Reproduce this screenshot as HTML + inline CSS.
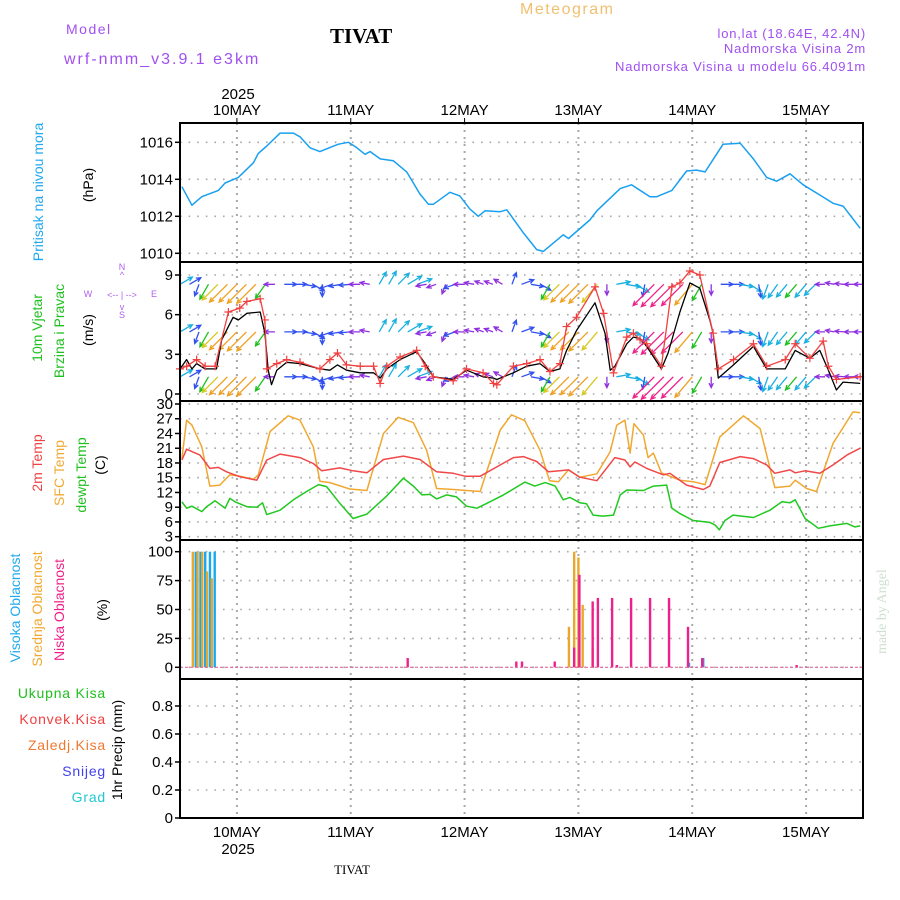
<!DOCTYPE html>
<html><head><meta charset="utf-8"><style>
html,body{margin:0;padding:0;background:#fff;}
svg{display:block;font-family:"Liberation Sans",sans-serif;}
</style></head><body>
<svg id="chart" width="900" height="900" viewBox="0 0 900 900" xmlns="http://www.w3.org/2000/svg">
<rect width="900" height="900" fill="#fff"/>
<text x="66" y="34" font-size="14" fill="#a050f0" letter-spacing="1.5">Model</text>
<text x="64" y="64" font-size="16" fill="#a050f0" letter-spacing="2">wrf-nmm_v3.9.1 e3km</text>
<text x="330" y="43" font-size="21" font-weight="bold" font-family="Liberation Serif,serif" fill="#000">TIVAT</text>
<text x="520" y="14" font-size="16" fill="#f0c070" letter-spacing="1.5">Meteogram</text>
<text x="866" y="38" font-size="13" fill="#a050f0" text-anchor="end" letter-spacing="0.8">lon,lat (18.64E, 42.4N)</text>
<text x="866" y="53" font-size="13" fill="#a050f0" text-anchor="end" letter-spacing="0.8">Nadmorska Visina 2m</text>
<text x="866" y="71" font-size="13" fill="#a050f0" text-anchor="end" letter-spacing="0.8">Nadmorska Visina u modelu 66.4091m</text>
<text x="238" y="99" font-size="15" text-anchor="middle">2025</text>
<text x="238" y="854" font-size="15" text-anchor="middle">2025</text>
<text x="352" y="874" font-size="13" font-family="Liberation Serif,serif" text-anchor="middle">TIVAT</text>
<text transform="translate(886,654) rotate(-90)" font-size="14" fill="#cfe0cf" font-family="Liberation Serif,serif">made by Angel</text>

<text transform="translate(43,192) rotate(-90)" font-size="14" fill="#20a8f0" text-anchor="middle">Pritisak na nivou mora</text>
<text transform="translate(93,185) rotate(-90)" font-size="14" text-anchor="middle">(hPa)</text>
<text transform="translate(42,328) rotate(-90)" font-size="14" fill="#20c020" text-anchor="middle">10m Vjetar</text>
<text transform="translate(64,331) rotate(-90)" font-size="14" fill="#20c020" text-anchor="middle">Brzina i Pravac</text>
<text transform="translate(93,330) rotate(-90)" font-size="14" text-anchor="middle">(m/s)</text>
<g fill="#b060f0" font-size="9" text-anchor="middle">
<text x="122" y="270">N</text><text x="122" y="278">^</text><text x="88" y="297">W</text><text x="154" y="297">E</text>
<text x="122" y="298">&lt;-- | --&gt;</text><text x="122" y="310">v</text><text x="122" y="318">S</text>
</g>
<text transform="translate(42,463) rotate(-90)" font-size="14" fill="#f04040" text-anchor="middle">2m Temp</text>
<text transform="translate(64,473) rotate(-90)" font-size="14" fill="#f0a830" text-anchor="middle">SFC Temp</text>
<text transform="translate(86,475) rotate(-90)" font-size="14" fill="#20c020" text-anchor="middle">dewpt Temp</text>
<text transform="translate(105,465) rotate(-90)" font-size="14" text-anchor="middle">(C)</text>
<text transform="translate(20,608) rotate(-90)" font-size="14" fill="#20a8f0" text-anchor="middle">Visoka Oblacnost</text>
<text transform="translate(42,609) rotate(-90)" font-size="14" fill="#f0a830" text-anchor="middle">Srednja Oblacnost</text>
<text transform="translate(64,610) rotate(-90)" font-size="14" fill="#f0208a" text-anchor="middle">Niska Oblacnost</text>
<text transform="translate(107,610) rotate(-90)" font-size="14" text-anchor="middle">(%)</text>
<g font-size="14" text-anchor="end" letter-spacing="0.8">
<text x="106" y="698" fill="#20c020">Ukupna  Kisa</text>
<text x="106" y="724" fill="#f04040">Konvek.Kisa</text>
<text x="106" y="750" fill="#f07830">Zaledj.Kisa</text>
<text x="106" y="776" fill="#4040f0">Snijeg</text>
<text x="106" y="802" fill="#20c8d0">Grad</text>
</g>
<text transform="translate(122,750) rotate(-90)" font-size="14" text-anchor="middle">1hr Precip (mm)</text>
<g id="plot"></g>
</svg>
<script>
// ---- data ----
const dayLabels = ["10MAY","11MAY","12MAY","13MAY","14MAY","15MAY"];
const dayHours = [12,36,60,84,108,132];
const pressTicks = [1010,1012,1014,1016];
const windTicks = [0,3,6,9];
const tempTicks = [3,6,9,12,15,18,21,24,27,30];
const cloudTicks = [0,25,50,75,100];
const precipTicks = [0,0.2,0.4,0.6,0.8];
const precipTickLabels = ["0","0.2","0.4","0.6","0.8"];

const pressHours = [0.4,2.5,4.6,8.1,9.5,12.3,15.5,16.5,18.3,21.1,23.9,25.3,27.4,29.5,33.4,35.5,37.3,39.0,40.1,42.2,45.0,47.8,50.6,52.4,53.4,56.9,59.0,61.1,62.9,64.3,67.5,68.9,72.4,75.2,76.6,80.8,81.9,86.4,87.9,92.8,95.2,99.1,100.5,103.7,106.8,108.9,110.7,112.1,114.5,118.1,120.9,123.7,125.8,128.6,131.4,134.9,137.7,139.8,143.4];
const pressVals = [1013.6,1012.6,1013.06,1013.4,1013.8,1014.1,1014.9,1015.4,1015.8,1016.5,1016.5,1016.3,1015.7,1015.5,1015.9,1016.0,1015.7,1015.35,1015.5,1015.1,1015.0,1014.4,1013.2,1012.65,1012.65,1013.3,1013.1,1012.4,1012.0,1012.3,1012.25,1012.35,1011.1,1010.2,1010.1,1011.0,1010.8,1011.8,1012.3,1013.5,1013.7,1013.06,1013.06,1013.4,1014.45,1014.5,1014.4,1014.95,1015.9,1015.95,1015.1,1014.1,1013.9,1014.3,1013.7,1013.15,1012.7,1012.55,1011.35];

const t2Hours = [0.4,1.4,4.2,6.3,8.1,9.8,12.6,16.2,18.3,21.1,25.3,28.1,29.9,33.7,36.5,39.4,42.9,47.1,50.6,54.1,57.6,60.1,63.3,70.3,72.4,75.2,77.7,80.1,81.9,84.3,87.9,91.7,93.8,94.9,95.9,98.4,101.9,103.3,106.8,110.3,111.7,113.8,118.1,120.9,123.7,125.4,128.6,129.7,131.8,134.9,137.7,140.6,143.4];
const t2Vals = [18.6,20.8,19.6,16.9,17.1,16.2,15.2,14.5,18.6,19.8,19.1,17.9,16.4,17.0,16.4,16.0,18.7,19.4,18.7,16.2,15.9,15.3,15.3,19.1,19.3,18.3,16.2,16.4,16.6,15.1,14.4,19.1,18.6,17.2,18.2,16.9,15.6,15.9,13.5,12.6,13.3,18.1,19.3,18.9,17.6,15.9,16.6,16.0,16.4,15.9,17.6,19.6,21.0];

const sfcHours = [0.4,1.4,2.5,4.6,6.3,8.4,10.5,12.6,15.5,16.5,19.0,22.8,25.3,28.1,29.5,31.6,35.8,39.4,42.9,46.0,49.2,52.0,54.1,57.6,63.3,67.5,69.9,72.7,75.9,77.9,79.8,81.9,84.3,87.9,90.7,92.1,93.8,94.9,95.7,97.7,98.7,99.8,101.5,105.4,108.2,110.7,113.8,118.8,122.3,125.4,128.6,129.7,132.1,134.2,137.7,141.9,143.4];
const sfcVals = [18.9,26.7,25.7,21.3,13.3,13.5,15.6,15.3,14.7,15.6,24.4,27.6,26.7,21.3,14.3,14.0,12.7,12.4,24.0,27.3,26.2,20.6,12.8,12.6,12.2,24.7,27.8,26.6,20.6,14.4,14.2,16.6,15.1,15.8,20.3,25.7,26.7,20.0,26.0,23.7,19.1,20.0,16.0,14.5,14.2,13.6,23.3,27.6,25.0,13.0,13.3,14.5,12.8,12.2,22.0,28.4,28.2];

const dewHours = [0.4,1.4,2.5,4.6,5.6,7.4,9.5,10.5,11.6,14.1,16.2,17.4,18.3,21.1,23.9,26.7,29.2,30.9,33.7,36.5,39.4,43.6,47.1,49.2,51.0,52.7,54.1,56.2,58.3,60.4,62.6,64.7,68.2,72.7,74.8,77.0,79.1,80.8,82.2,84.3,85.7,87.1,89.2,91.4,92.8,94.2,97.7,99.8,102.6,103.7,105.4,108.2,111.7,112.8,113.7,114.9,116.6,120.9,124.4,126.9,128.6,129.7,131.8,134.6,137.0,140.6,142.3,143.4];
const dewVals = [10.1,8.8,9.2,8.1,9.1,10.3,8.8,10.8,10.1,9.1,9.0,9.9,7.5,8.4,10.5,12.2,13.6,13.2,9.8,6.7,7.6,11.3,14.9,13.3,11.5,11.6,10.7,11.5,11.1,9.2,8.8,9.8,11.5,14.1,13.3,14.0,13.3,10.5,11.0,9.9,9.7,7.4,7.2,7.4,11.5,12.5,12.4,13.3,13.5,8.8,7.7,6.3,5.9,5.4,4.4,6.3,7.4,6.9,8.4,10.1,9.9,10.5,6.7,4.7,5.2,5.7,5.0,5.2];

const speedHours = [0,1.4,2.5,3.5,5.3,7.7,8.8,11.2,12.3,14.1,16.9,17.9,18.6,19.3,20.4,22.5,25.3,29.5,31.6,33.2,35.1,38,40.8,42.2,43.6,46.4,49.9,51.7,53.4,57.6,60.4,63.9,66.1,66.8,70.3,73.1,75.9,78,80.1,81.5,83.6,87.5,89.6,90.7,91.7,94.2,95.6,97,98.4,101.5,102.9,105.4,107.5,109.6,111.7,112.4,113.5,116.7,120.9,123.7,127.6,129.7,132.8,134.9,136.7,138.4,139.8,143.4];
const speedVals = [1.9,2.6,1.9,2.3,1.9,1.9,4.1,5.8,5.6,6.1,6.2,4.6,1.8,0.7,1.8,2.4,2.3,1.9,1.8,2.2,1.8,1.6,1.6,1.2,1.9,2.6,3.2,2.3,1.3,1.1,1.8,1.3,1.2,1.1,1.6,2.1,2.3,1.7,1.9,3.3,4.8,6.9,4.6,1.8,2.1,3.8,4.3,4.2,3.6,1.9,3.1,6.2,8.4,8.0,5.6,4.6,1.2,2.2,3.6,1.9,1.9,3.3,2.7,3.3,1.8,0.3,0.9,0.8];

const gustHours = [0,1.4,3.5,5.3,7.4,10.2,12.6,14.1,16.9,17.9,18.3,20.4,22.5,25.3,29.5,31.6,33.2,35.1,38,40.8,42.2,43.6,46.4,49.9,51.7,53.4,57.6,60.4,63.9,66.1,66.8,70.3,73.1,75.9,78,80.1,81.5,83.6,87.5,89.3,91.4,94.2,95.6,97,98.4,101.5,103.7,105.4,107.5,109.6,112.4,113.5,116.7,120.9,123.7,127.6,129.7,132.8,135.6,136.7,138.4,143.4];
const gustVals = [1.9,2.1,2.6,2.1,2.1,6.2,6.5,7.0,7.2,5.6,1.9,2.3,2.6,2.4,1.9,2.6,3.1,2.2,2.1,2.1,0.8,2.1,2.8,3.3,2.1,1.3,1.0,1.9,1.6,0.8,0.7,2.1,2.3,2.6,1.7,2.3,5.1,5.8,8.1,6.1,1.6,4.3,4.6,4.1,3.8,2.1,8.1,8.4,9.3,9.0,4.6,1.9,2.6,3.8,2.1,2.6,3.8,2.7,4.0,2.1,1.1,1.3];

const windHours = [0,2,4,6,8,10,12,14,16,18,20,22,24,26,28,30,32,34,36,38,40,42,44,46,48,50,52,54,56,58,60,62,64,66,68,70,72,74,76,78,80,82,84,86,88,90,92,94,96,98,100,102,104,106,108,110,112,114,116,118,120,122,124,126,128,130,132,134,136,138,140,142,144];
const windDir = [30,30,250,240,225,225,225,225,225,235,180,0,0,350,330,270,200,190,185,180,170,60,60,45,30,20,190,200,250,200,180,170,160,160,150,70,20,350,330,240,225,225,225,225,230,270,10,350,330,260,225,225,225,225,230,240,270,0,0,350,330,280,250,235,230,230,230,225,180,170,175,180,180];
const windSpd = [2.6,2.2,2.0,3.5,5,6,6,6.5,6.5,3.5,1.5,2,2.2,2.2,2.3,2.0,2.2,2.0,1.8,1.6,1.2,2.5,2.8,3.0,3.2,3.0,1.5,1.2,1.3,1.8,1.5,1.2,1.0,1.0,1.2,2.0,2.2,2.2,1.8,3.5,5,6,6,6.5,5.5,1.5,2.5,2.8,3.0,2.0,7.5,8,8,7.5,6.5,4,1.5,2.0,2.3,2.5,2.5,2.3,3.0,3.2,3.3,3.5,3.4,3.0,1.2,1.0,1.0,1.0,1.0];
const windRows = [8.3,4.7,1.3];

const highHours = [3,4,5,6,7,107,110];
const highVals = [100,100,100,100,100,4,8];
const midHours = [2.7,3.7,4.7,5.7,6.7,82,83.1,84,84.9,87];
const midVals = [100,100,100,83,77,35,100,95,54,17];
const lowHours = [47.9,70.8,72,78.9,83,84.1,86.9,88,91,92,95,99,103,107,110,129.9];
const lowVals = [8,5,5,5,17,80,57,60,60,2,60,60,60,35,8,2];

// ---- scales ----
const X0=180, X1=863, H0=0, H1=144;
const xs = h => X0 + (h-H0)*(X1-X0)/(H1-H0);
const lin = (d0,d1,r0,r1) => v => r0 + (v-d0)*(r1-r0)/(d1-d0);
const yP = lin(1016,1010,142.3,253.3);
const yW = lin(9,0,275,394);
const yT = lin(30,3,404,536.7);
const yC = lin(100,0,551.7,667.3);
const yR = lin(0.8,0,706,818);
const panels = [
 {name:'pressure',top:123,bot:262,y:yP,ticks:pressTicks,labels:pressTicks.map(String)},
 {name:'wind',top:262,bot:401,y:yW,ticks:windTicks,labels:windTicks.map(String)},
 {name:'temp',top:401,bot:540,y:yT,ticks:tempTicks,labels:tempTicks.map(String)},
 {name:'cloud',top:540,bot:679,y:yC,ticks:cloudTicks,labels:cloudTicks.map(String)},
 {name:'precip',top:679,bot:818,y:yR,ticks:precipTicks,labels:precipTickLabels}
];
const NS='http://www.w3.org/2000/svg';
const plot=document.getElementById('plot');
function mk(tag,attrs,parent){const e=document.createElementNS(NS,tag);for(const k in attrs)e.setAttribute(k,attrs[k]);(parent||plot).appendChild(e);return e;}

panels.forEach(p=>{
  const g=mk('g',{});
  
  
  p.ticks.forEach((t,i)=>{
    const y=p.y(t);
    const gl=mk('line',{x1:X0,x2:X1,y1:y,y2:y,stroke:'#a8a8a8','stroke-width':1.6,'stroke-dasharray':'1.6,7'},g);
    
    
    const tk=mk('line',{x1:X0-5,x2:X0,y1:y,y2:y,stroke:'#000','stroke-width':1.5},g);
    
    
    const tl=mk('text',{x:X0-7,y:y+5,'font-size':15,'text-anchor':'end',fill:'#000'},g);
    tl.textContent=p.labels[i];
    
    
  });
  dayHours.forEach(h=>{
    const vl=mk('line',{x1:xs(h),x2:xs(h),y1:p.top,y2:p.bot,stroke:'#a8a8a8','stroke-width':2,'stroke-dasharray':'2,5'},g);
    
    
  });
});
dayHours.forEach((h,i)=>{
  const t=mk('text',{x:xs(h),y:115,'font-size':15,'text-anchor':'middle'});
  t.textContent=dayLabels[i];
  
  
  const b=mk('text',{x:xs(h),y:837,'font-size':15,'text-anchor':'middle'});
  b.textContent=dayLabels[i];
  
  
  const tt=mk('line',{x1:xs(h),x2:xs(h),y1:118,y2:123,stroke:'#000'});
  
  
});

function pathOf(hs,vs,y){return hs.map((h,i)=>(i?'L':'M')+xs(h).toFixed(1)+' '+y(vs[i]).toFixed(1)).join(' ');}
function line(hs,vs,y,color,name,w){
  const e=mk('path',{d:pathOf(hs,vs,y),fill:'none',stroke:color,'stroke-width':w||1.5,'stroke-linejoin':'round'});
  
  
  return e;
}
line(pressHours,pressVals,yP,'#18a0f0','pressure-line');

// wind arrows
function windColor(s){if(s<=1.6)return'#9030e0';if(s<=2.4)return'#3050f0';if(s<=3.4)return'#18b0e0';if(s<=4.5)return'#20c020';if(s<=5.5)return'#d8c820';if(s<=7)return'#f0a020';return'#f0208a';}
const wg=mk('g',{});


windRows.forEach(r=>{
  windHours.forEach((h,i)=>{
    const s=windSpd[i], a=windDir[i]*Math.PI/180, L=6+s*3.2;
    const x0=xs(h), y0=yW(r);
    const x1=x0+L*Math.cos(a), y1=y0-L*Math.sin(a);
    const c=windColor(s);
    const ar=mk('path',{d:`M${x0.toFixed(1)} ${y0.toFixed(1)} L${x1.toFixed(1)} ${y1.toFixed(1)} M${(x1-5*Math.cos(a-0.45)).toFixed(1)} ${(y1+5*Math.sin(a-0.45)).toFixed(1)} L${x1.toFixed(1)} ${y1.toFixed(1)} L${(x1-5*Math.cos(a+0.45)).toFixed(1)} ${(y1+5*Math.sin(a+0.45)).toFixed(1)}`,stroke:c,'stroke-width':1.3,fill:'none'},wg);
    
    
  });
});
line(speedHours,speedVals,yW,'#000','wind-speed-line',1.3);
line(gustHours,gustVals,yW,'#f04040','wind-gust-line',1.3);
gustHours.forEach((h,i)=>{
  const x=xs(h),y=yW(gustVals[i]);
  const m=mk('path',{d:`M${x-4} ${y}H${x+4}M${x} ${y-4}V${y+4}`,stroke:'#f04040','stroke-width':1.2});
  
  
});

line(sfcHours,sfcVals,yT,'#f0a830','sfc-temp-line');
line(t2Hours,t2Vals,yT,'#f04848','temp-2m-line');
line(dewHours,dewVals,yT,'#20c820','dewpoint-line');

// cloud bars
function bars(hs,vs,color,name,dx){
  hs.forEach((h,i)=>{
    const b=mk('rect',{x:xs(h)+dx-1.2,y:yC(vs[i]),width:2.4,height:yC(0)-yC(vs[i]),fill:color});
    
    
  });
}
bars(highHours,highVals,'#18a8f0','high-cloud-bar',1.5);
bars(midHours,midVals,'#e8a830','mid-cloud-bar',0);
bars(lowHours,lowVals,'#f0208a','low-cloud-bar',0.5);
const zl=mk('line',{x1:X0,x2:X1,y1:yC(0),y2:yC(0),stroke:'#e06aa0','stroke-width':1.2,'stroke-dasharray':'3,2'});



// frames
panels.forEach(p=>{
  const f=mk('rect',{x:X0,y:p.top,width:X1-X0,height:p.bot-p.top,fill:'none',stroke:'#000','stroke-width':2});
  
  
});
</script>
</body></html>
